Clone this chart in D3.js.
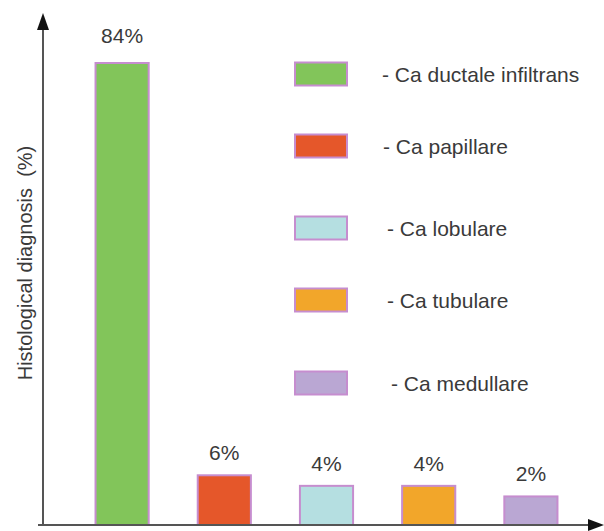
<!DOCTYPE html>
<html><head><meta charset="utf-8">
<script src="https://cdn.jsdelivr.net/npm/d3@7/dist/d3.min.js"></script>
<style>body{margin:0;background:#fff}svg{display:block}text{font-family:"Liberation Sans",Arial,sans-serif;fill:#3a3a3a}</style>
</head><body><svg id="c" width="604" height="531"></svg>
<script>
const categories = ["Ca ductale infiltrans","Ca papillare","Ca lobulare","Ca tubulare","Ca medullare"];
const values = [84, 6, 4, 4, 2];
const valueLabels = ["84%","6%","4%","4%","2%"];
const colors = ["#82c55a","#e5572a","#b5dfe1","#f2a62a","#baa7d3"];
const yTitle = "Histological diagnosis  (%)";

const svg = d3.select("#c");
const axisY = 525, axisX = 43;
const x = d3.scaleBand().domain(categories).range([71, 582]).paddingInner(0.48).paddingOuter(0.24);
const y = d3.scaleLinear().domain([0, 84]).range([507, 63]);

// bars
svg.selectAll("rect.bar").data(categories).enter().append("rect")
  .attr("x", d => x(d)).attr("width", x.bandwidth())
  .attr("y", (d,i) => y(values[i])).attr("height", (d,i) => axisY - y(values[i]))
  .attr("fill", (d,i) => colors[i]).attr("stroke", "#c68dcf").attr("stroke-width", 2);

svg.selectAll("text.val").data(categories).enter().append("text")
  .attr("x", d => x(d) + x.bandwidth()/2).attr("y", (d,i) => y(values[i]) - (i===0 ? 20 : 15))
  .attr("text-anchor", "middle").style("font-size", "21px").text((d,i) => valueLabels[i]);

// axes
svg.append("line").attr("x1", axisX).attr("x2", axisX).attr("y1", 26).attr("y2", axisY+1)
  .attr("stroke", "#555").attr("stroke-width", 2);
svg.append("line").attr("x1", 38).attr("x2", 596).attr("y1", axisY).attr("y2", axisY)
  .attr("stroke", "#555").attr("stroke-width", 2);
svg.append("path").attr("d", `M${axisX},13 L${axisX-6},30 L${axisX+6},30 Z`).attr("fill", "#111");
svg.append("path").attr("d", `M604,${axisY} L588,${axisY-6} L588,${axisY+6} Z`).attr("fill", "#111");

svg.append("text").attr("transform", `translate(32,263) rotate(-90)`)
  .attr("text-anchor", "middle").style("font-size", "20px").style("white-space", "pre").text(yTitle);

// legend
const legRows = [74, 146, 228, 300, 383];
const legTextX = [382, 383, 387, 387, 391];
const lg = svg.selectAll("g.leg").data(categories).enter().append("g")
  .attr("transform", (d,i) => `translate(0,${legRows[i]})`);
lg.append("rect").attr("x", 295).attr("y", -11.5).attr("width", 52).attr("height", 23)
  .attr("fill", (d,i) => colors[i]).attr("stroke", "#c68dcf").attr("stroke-width", 2);
lg.append("text").attr("x", (d,i) => legTextX[i]).attr("y", 7.5)
  .style("font-size", "21px").text(d => "- " + d);
</script></body></html>
